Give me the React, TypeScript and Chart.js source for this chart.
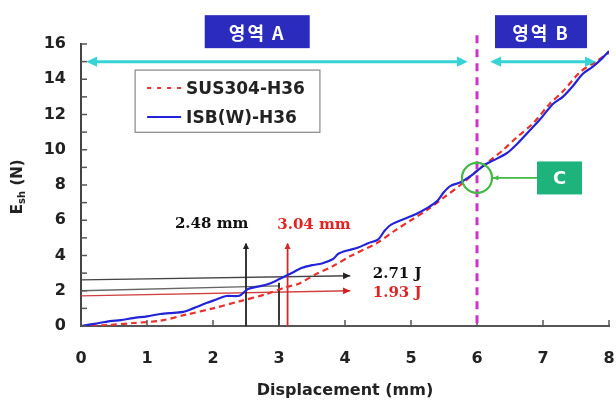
import React, { useEffect, useRef } from 'react';
import { Chart, registerables } from 'chart.js';

Chart.register(...registerables);

// ---- data ----
const isbX = [0, 0.2, 0.44, 0.6, 0.79, 1.0, 1.2, 1.4, 1.55, 1.7, 1.9, 2.05, 2.2, 2.4, 2.53, 2.7, 2.85, 3.0, 3.17, 3.35, 3.5, 3.65, 3.82, 3.9, 4.05, 4.2, 4.35, 4.5, 4.6, 4.7, 4.95, 5.1, 5.25, 5.4, 5.5, 5.6, 5.75, 5.9, 6.0, 6.12, 6.25, 6.45, 6.6, 6.75, 6.95, 7.15, 7.3, 7.45, 7.6, 7.75, 7.9, 8.0];
const isbY = [0, 0.12, 0.28, 0.33, 0.45, 0.55, 0.68, 0.75, 0.8, 1.0, 1.3, 1.5, 1.7, 1.72, 2.1, 2.25, 2.4, 2.65, 2.96, 3.3, 3.45, 3.55, 3.8, 4.1, 4.3, 4.45, 4.7, 4.9, 5.4, 5.75, 6.15, 6.4, 6.7, 7.1, 7.6, 7.95, 8.15, 8.5, 8.8, 9.15, 9.4, 9.8, 10.3, 10.9, 11.7, 12.6, 13.0, 13.6, 14.3, 14.7, 15.2, 15.6];
const susX = [0, 0.4, 0.8, 1.2, 1.6, 2.0, 2.4, 2.8, 3.1, 3.3, 3.57, 3.82, 4.1, 4.48, 4.75, 5.0, 5.25, 5.5, 5.75, 6.0, 6.2, 6.4, 6.6, 6.85, 7.1, 7.3, 7.56, 7.8, 8.0];
const susY = [0, 0.05, 0.17, 0.3, 0.65, 1.0, 1.4, 1.8, 2.2, 2.4, 2.96, 3.4, 4.0, 4.7, 5.4, 6.0, 6.6, 7.3, 8.0, 8.8, 9.4, 10.0, 10.7, 11.5, 12.6, 13.3, 14.4, 15.0, 15.5];
const seriesNames = ['SUS304-H36', 'ISB(W)-H36'];
const xTickValues = [0, 1, 2, 3, 4, 5, 6, 7, 8];
const yTickValues = [0, 1, 2, 3, 4, 5, 6, 7, 8, 9, 10, 11, 12, 13, 14, 15, 16];
const regionLabels = ['영역 A', '영역 B'];
const regionBoundary = 6;
const markLabels = ['2.48 mm', '3.04 mm', '2.71 J', '1.93 J'];
const markX = [2.5, 3.13];
const energyLevels = [2.62, 2.85, 1.71, 2.0];

const BLUE = '#2323d8';
const RED = '#e8322e';
const CYAN = '#35d3d3';
const MAGENTA = '#c935c9';
const BOX_BLUE = '#2b2bbd';
const GREEN = '#44b844';
const TEAL = '#1fb37c';
const SANS = '"DejaVu Sans"';
const SERIF = '"DejaVu Serif"';

function seg(ctx: CanvasRenderingContext2D, x1: number, y1: number, x2: number, y2: number, color: string, w: number, dash: number[] = []) {
  ctx.save();
  ctx.strokeStyle = color;
  ctx.lineWidth = w;
  ctx.setLineDash(dash);
  ctx.beginPath();
  ctx.moveTo(x1, y1);
  ctx.lineTo(x2, y2);
  ctx.stroke();
  ctx.restore();
}

function head(ctx: CanvasRenderingContext2D, x1: number, y1: number, x2: number, y2: number, size: number, color: string) {
  const a = Math.atan2(y2 - y1, x2 - x1);
  ctx.save();
  ctx.fillStyle = color;
  ctx.beginPath();
  ctx.moveTo(x2, y2);
  ctx.lineTo(x2 - size * Math.cos(a - 0.45), y2 - size * Math.sin(a - 0.45));
  ctx.lineTo(x2 - size * Math.cos(a + 0.45), y2 - size * Math.sin(a + 0.45));
  ctx.closePath();
  ctx.fill();
  ctx.restore();
}

const annotPlugin = {
  id: 'annot',
  beforeDatasetsDraw(chart: any) {
    const ctx: CanvasRenderingContext2D = chart.ctx;
    const xs = chart.scales.x;
    const ys = chart.scales.y;
    const X = (v: number) => xs.getPixelForValue(v);
    const Y = (v: number) => ys.getPixelForValue(v);
    // horizontal energy lines
    seg(ctx, X(0), Y(energyLevels[0]), X(4.08), Y(energyLevels[1]), '#444', 1.3);
    head(ctx, X(0), Y(energyLevels[0]), X(4.08), Y(energyLevels[1]), 8, '#222');
    seg(ctx, X(0), Y(2.0), X(3.0), Y(2.28), '#666', 1.3);
    seg(ctx, X(0), Y(energyLevels[2]), X(4.08), Y(energyLevels[3]), '#d04040', 1.3);
    head(ctx, X(0), Y(energyLevels[2]), X(4.08), Y(energyLevels[3]), 8, '#d02020');
    // vertical marks
    seg(ctx, X(markX[0]), Y(0), X(markX[0]), Y(4.67), '#222', 1.8);
    head(ctx, X(markX[0]), Y(0), X(markX[0]), Y(4.72), 7, '#222');
    seg(ctx, X(3.0), Y(0), X(3.0), Y(2.45), '#222', 1.8);
    seg(ctx, X(markX[1]), Y(0), X(markX[1]), Y(4.67), '#d02a2a', 1.8);
    head(ctx, X(markX[1]), Y(0), X(markX[1]), Y(4.72), 7, '#d02a2a');
  },
  afterDatasetsDraw(chart: any) {
    const ctx: CanvasRenderingContext2D = chart.ctx;
    const xs = chart.scales.x;
    const ys = chart.scales.y;
    const X = (v: number) => xs.getPixelForValue(v);
    const Y = (v: number) => ys.getPixelForValue(v);
    const area = chart.chartArea;

    // inner ticks
    ctx.save();
    ctx.strokeStyle = '#555';
    ctx.lineWidth = 1.5;
    yTickValues.forEach((v) => {
      ctx.beginPath();
      ctx.moveTo(area.left, Y(v));
      ctx.lineTo(area.left + 6, Y(v));
      ctx.stroke();
    });
    xTickValues.forEach((v) => {
      ctx.beginPath();
      ctx.moveTo(X(v), area.bottom);
      ctx.lineTo(X(v), area.bottom - 6);
      ctx.stroke();
    });
    ctx.restore();

    // magenta dashed boundary
    seg(ctx, X(regionBoundary), Y(16.5), X(regionBoundary), Y(0), MAGENTA, 3, [8, 6]);

    // cyan double arrows
    const cy = Y(15);
    const cyanArrow = (a: number, b: number) => {
      seg(ctx, X(a) + 6, cy, X(b) - 6, cy, CYAN, 3);
      head(ctx, X(b), cy, X(a), cy, 12, CYAN);
      head(ctx, X(a), cy, X(b), cy, 12, CYAN);
    };
    cyanArrow(0.08, 5.86);
    cyanArrow(6.2, 7.8);

    // region boxes
    const box = (cx: number, cyv: number, w: number, h: number, fill: string, text: string, font: string, spacing: string) => {
      const px = X(cx);
      const py = Y(cyv);
      ctx.save();
      ctx.fillStyle = fill;
      ctx.fillRect(px - w / 2, py - h / 2, w, h);
      ctx.fillStyle = '#ffffff';
      ctx.font = font;
      (ctx as any).letterSpacing = spacing;
      ctx.textAlign = 'center';
      ctx.textBaseline = 'middle';
      ctx.fillText(text, px, py + 1);
      ctx.restore();
    };
    box(2.67, 16.7, 105, 33, BOX_BLUE, regionLabels[0], `bold 18px "Noto Sans CJK KR"`, '2px');
    box(6.97, 16.7, 92, 33, BOX_BLUE, regionLabels[1], `bold 18px "Noto Sans CJK KR"`, '2px');

    // green circle + connector + C box
    const gx = X(6.0);
    const gy = Y(8.4);
    ctx.save();
    ctx.strokeStyle = GREEN;
    ctx.lineWidth = 2.2;
    ctx.beginPath();
    ctx.arc(gx, gy, 15, 0, Math.PI * 2);
    ctx.stroke();
    ctx.restore();
    seg(ctx, gx + 15, gy, X(7.25) - 22, gy, GREEN, 1.8);
    head(ctx, X(7.25) - 22, gy, gx + 16, gy, 6, GREEN);
    box(7.25, 8.4, 45, 33, TEAL, 'C', `bold 18px ${SANS}`, '0px');

    // annotation texts
    ctx.save();
    ctx.font = `bold 15px ${SERIF}`;
    ctx.textBaseline = 'middle';
    ctx.textAlign = 'center';
    ctx.fillStyle = '#111';
    ctx.fillText(markLabels[0], X(1.98), Y(5.8));
    ctx.fillStyle = '#e02424';
    ctx.fillText(markLabels[1], X(3.53), Y(5.7));
    ctx.textAlign = 'left';
    ctx.fillStyle = '#111';
    ctx.fillText(markLabels[2], X(4.42), Y(2.96));
    ctx.fillStyle = '#e02424';
    ctx.fillText(markLabels[3], X(4.42), Y(1.88));
    ctx.restore();

    // legend
    const lx1 = X(0.82), lx2 = X(3.62), ly1 = Y(14.52), ly2 = Y(10.99);
    ctx.save();
    ctx.fillStyle = '#ffffff';
    ctx.fillRect(lx1, ly1, lx2 - lx1, ly2 - ly1);
    ctx.strokeStyle = '#888';
    ctx.lineWidth = 1.2;
    ctx.strokeRect(lx1, ly1, lx2 - lx1, ly2 - ly1);
    const r1 = ly1 + 18;
    const r2 = ly1 + 47;
    seg(ctx, lx1 + 12, r1, lx1 + 46, r1, RED, 2, [4, 6]);
    seg(ctx, lx1 + 12, r2, lx1 + 46, r2, BLUE, 2);
    ctx.font = `bold 17px ${SANS}`;
    ctx.fillStyle = '#222';
    ctx.textBaseline = 'middle';
    ctx.textAlign = 'left';
    ctx.fillText(seriesNames[0], lx1 + 51, r1 + 1);
    ctx.fillText(seriesNames[1], lx1 + 51, r2 + 1);
    ctx.restore();

    // y-axis title with subscript
    ctx.save();
    ctx.translate(18, Y(7.9));
    ctx.rotate(-Math.PI / 2);
    ctx.fillStyle = '#222';
    ctx.textBaseline = 'middle';
    ctx.textAlign = 'left';
    ctx.font = `bold 15px ${SANS}`;
    const wE = ctx.measureText('E').width;
    const wN = ctx.measureText(' (N)').width;
    ctx.font = `bold 10px ${SANS}`;
    const wS = ctx.measureText('sh').width;
    let x = -(wE + wS + wN) / 2;
    ctx.font = `bold 15px ${SANS}`;
    ctx.fillText('E', x, 0);
    x += wE;
    ctx.font = `bold 10px ${SANS}`;
    ctx.fillText('sh', x, 4);
    x += wS;
    ctx.font = `bold 15px ${SANS}`;
    ctx.fillText(' (N)', x, 0);
    ctx.restore();
  },
};

export default function App() {
  const ref = useRef<HTMLCanvasElement | null>(null);
  useEffect(() => {
    document.body.style.margin = '0';
    const canvas = ref.current;
    if (!canvas) return;
    const chart = new Chart(canvas, {
      type: 'line',
      data: {
        datasets: [
          {
            label: seriesNames[1],
            data: isbX.map((x, i) => ({ x, y: isbY[i] })),
            borderColor: BLUE,
            borderWidth: 2.2,
            pointRadius: 0,
            tension: 0.3,
            fill: false,
          },
          {
            label: seriesNames[0],
            data: susX.map((x, i) => ({ x, y: susY[i] })),
            borderColor: RED,
            borderWidth: 2.2,
            borderDash: [6, 4],
            pointRadius: 0,
            tension: 0.3,
            fill: false,
          },
        ],
      },
      options: {
        animation: false,
        responsive: false,
        devicePixelRatio: 1,
        layout: { padding: { top: 44, right: 7, left: 0, bottom: 0 } },
        plugins: { legend: { display: false }, tooltip: { enabled: false } },
        scales: {
          x: {
            type: 'linear',
            min: 0,
            max: 8,
            afterFit: (s: any) => { s.height = 79; },
            ticks: {
              stepSize: 1,
              autoSkip: false,
              maxRotation: 0,
              font: { family: 'DejaVu Sans', weight: 'bold', size: 16 },
              color: '#222',
              padding: 0,
            },
            grid: { display: false, drawTicks: true, tickLength: 23, tickColor: 'rgba(0,0,0,0)' },
            border: { display: true, color: '#555', width: 2 },
            title: {
              display: true,
              text: 'Displacement (mm)',
              font: { family: 'DejaVu Sans', weight: 'bold', size: 16 },
              color: '#222',
              padding: { top: 0, bottom: 5 },
            },
          },
          y: {
            type: 'linear',
            min: 0,
            max: 16,
            afterFit: (s: any) => { s.width = 81; },
            ticks: {
              stepSize: 1,
              autoSkip: false,
              font: { family: 'DejaVu Sans', weight: 'bold', size: 16 },
              color: '#222',
              padding: 15,
              callback: (v: any) => (Number(v) % 2 === 0 ? String(v) : ''),
            },
            grid: { display: false, drawTicks: false },
            border: { display: true, color: '#444', width: 2 },
          },
        },
      } as any,
      plugins: [annotPlugin],
    });
    return () => chart.destroy();
  }, []);
  return (
    <div style={{ width: 616, height: 405, background: '#fff' }}>
      <canvas ref={ref} width={616} height={405} style={{ display: 'block' }} />
    </div>
  );
}
